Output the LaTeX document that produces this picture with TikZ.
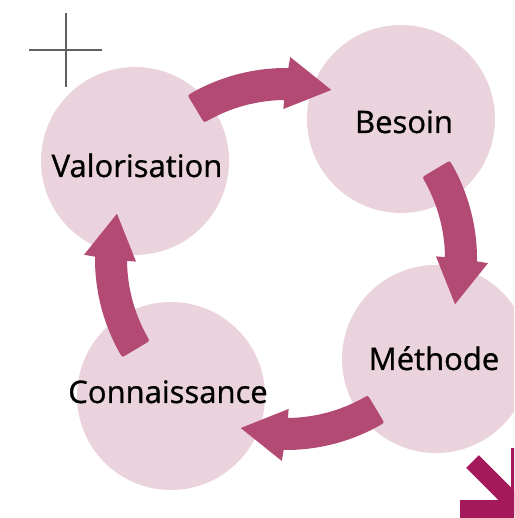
\documentclass[tikz,border=0pt]{standalone}
\usepackage{fontspec}
\setmainfont{Open Sans}
\newfontfamily\stagefont{Open Sans}[FakeBold=0.9]
\definecolor{bubblefill}{HTML}{EAD3DD}
\definecolor{flowfill}{HTML}{B34A73}
\definecolor{accentfill}{HTML}{A3195B}
\definecolor{markline}{HTML}{5F5F5F}

\begin{document}
\begin{tikzpicture}[x=1pt, y=1pt,
  bubble/.style={circle, fill=bubblefill, minimum size=188pt, inner sep=0pt},
  stagelabel/.style={font=\stagefont\fontsize{31}{36}\selectfont, anchor=base, inner sep=0pt, text=black},
  flowarrow/.style={fill=flowfill, shift={(hub)}, rotate=#1},
  accentline/.style={draw=accentfill, line width=18pt}
]
\useasboundingbox (0,0) rectangle (514,518);
\clip (0,0) rectangle (514,518);

% centre of the cycle
\coordinate (hub) at (286,259);

% stage bubbles
\node[bubble] (valo) at (135,357) {};
\node[bubble] (besoin) at (401,399) {};
\node[bubble] (methode) at (436,159) {};
\node[bubble] (connais) at (171,122) {};

% curved arrows between the stages, each a quarter turn of the same shape
\foreach \turn in {0,-90,-180,-270} {
  \path[flowarrow=\turn]
    (121:186) .. controls (121:191) .. (119.5:191)
    arc[start angle=119.5, end angle=89.3, radius=191]
    -- (88.8:202) -- (75:175) -- (91:150) -- (90.7:159)
    arc[start angle=90.7, end angle=119.2, radius=159]
    .. controls (121:159) .. (121:164) -- cycle;
}

% stage names
\node[stagelabel] (tvalo) at (137,341) {Valorisation};
\node[stagelabel] (tbesoin) at (404,385) {Besoin};
\node[stagelabel] (tmethode) at (434,148) {Méthode};
\node[stagelabel] (tconnais) at (168,115) {Connaissance};

% corner cross mark
\coordinate (crossW) at (29,468);
\coordinate (crossE) at (102,468);
\coordinate (crossN) at (66,505);
\coordinate (crossS) at (66,431);
\draw[markline, line width=2pt] (crossW) -- (crossE) (crossN) -- (crossS);

% outgoing arrow in the lower right corner
\coordinate (outTail) at (472.5,56.5);
\coordinate (outTip) at (520,9);
\coordinate (outLeft) at (460,9);
\coordinate (outTop) at (520,70);
\path[accentline] (outLeft) -- (outTip) -- (outTop);
\path[accentline] (outTail) -- (outTip);
\end{tikzpicture}
\end{document}
